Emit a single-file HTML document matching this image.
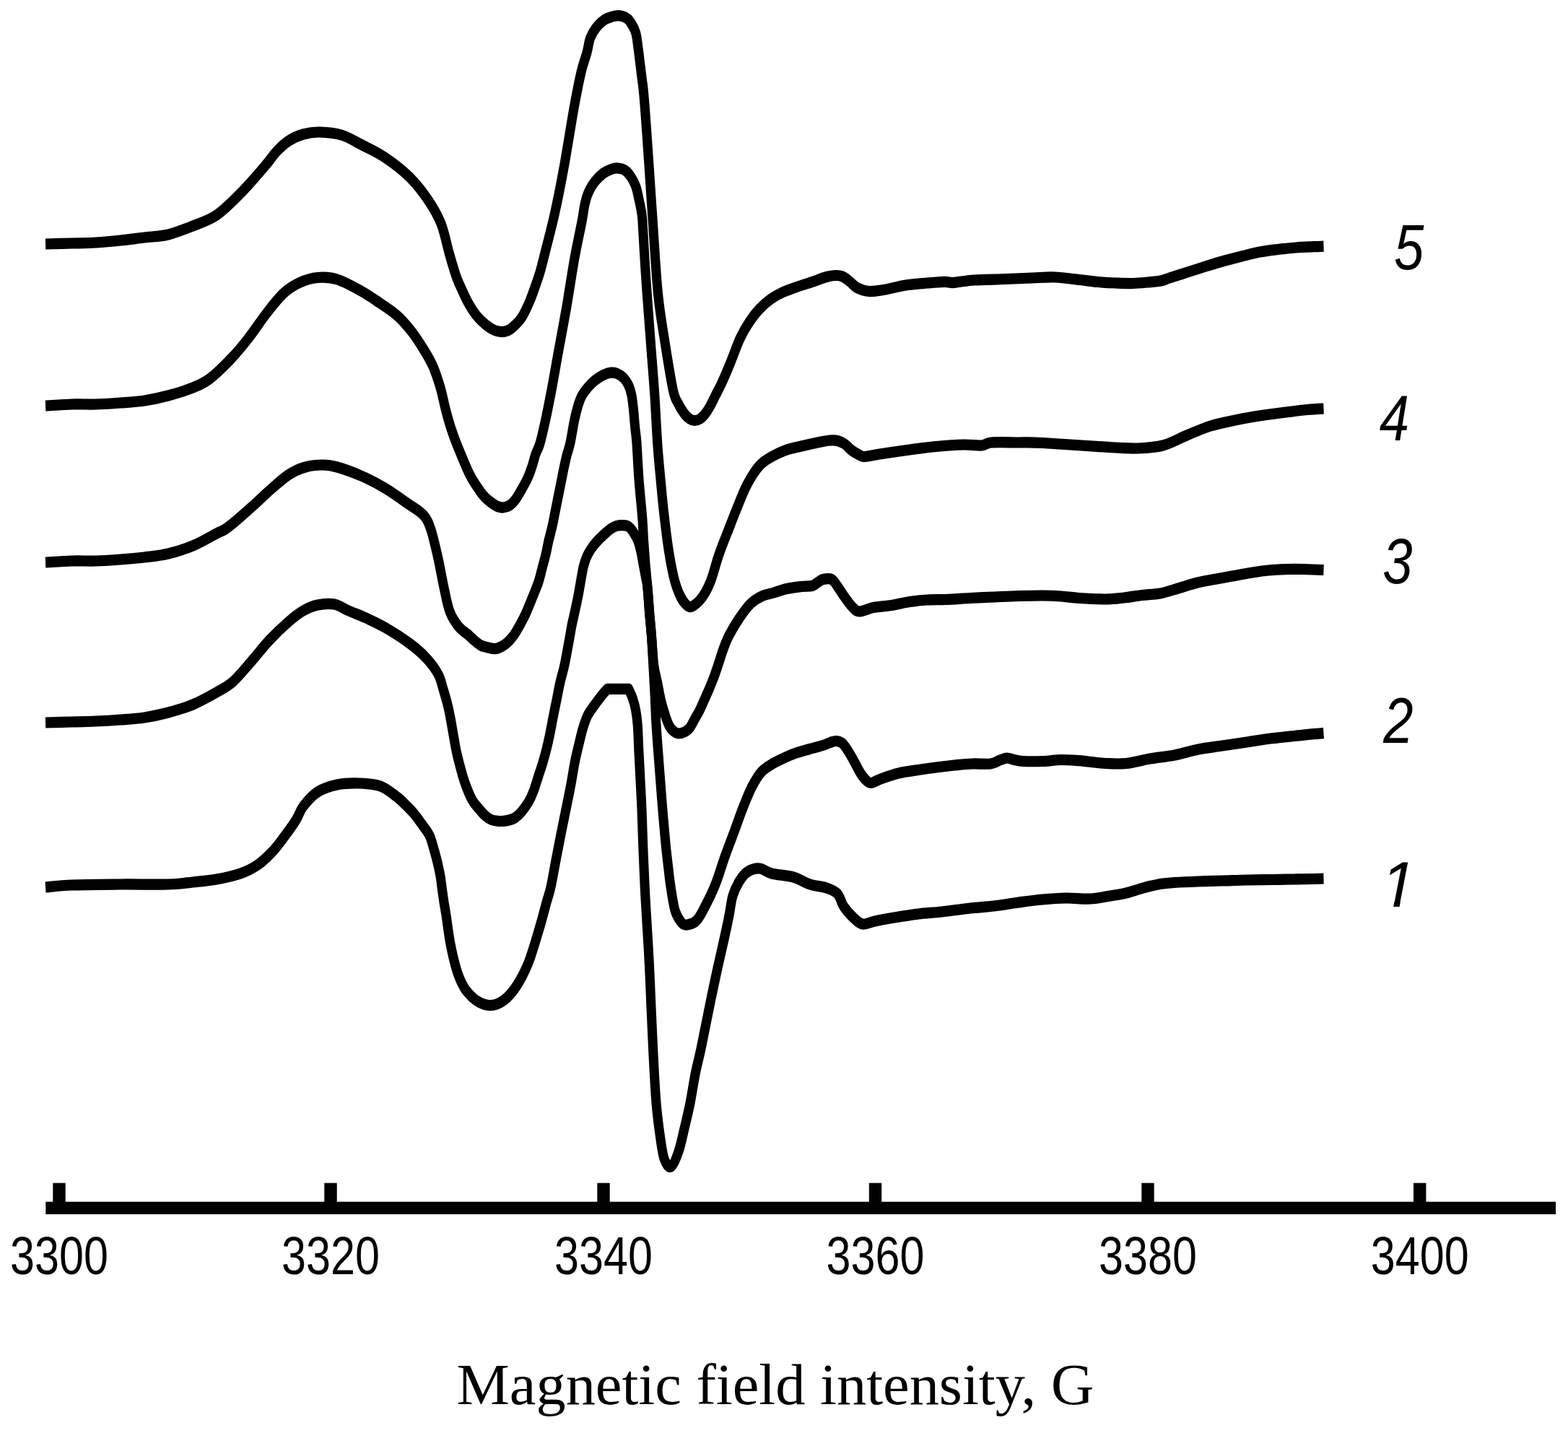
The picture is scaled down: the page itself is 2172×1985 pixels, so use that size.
<!DOCTYPE html>
<html lang="en">
<head>
<meta charset="utf-8">
<title>Magnetic field intensity</title>
<style>
html,body{margin:0;padding:0;background:#fff;}
body{width:2172px;height:1985px;overflow:hidden;}
svg{display:block;}
.curves path{fill:none;stroke:#000;stroke-width:15.2;stroke-linejoin:round;stroke-linecap:butt;}
.ticklabels text{font-family:"Liberation Sans",sans-serif;font-size:74.5px;text-anchor:middle;fill:#000;}
.curvelabels text{font-family:"Liberation Sans",sans-serif;font-style:italic;font-size:89px;text-anchor:middle;fill:#000;}
.title{font-family:"Liberation Serif",serif;font-size:81px;fill:#000;}
</style>
</head>
<body>
<svg xmlns="http://www.w3.org/2000/svg" width="2172" height="1985" viewBox="0 0 2172 1985">
<rect width="2172" height="1985" fill="#fff"/>
<g class="curves" transform="scale(0.86 1)">
<path d="M73.3 1229.0C80.4 1228.5 96.1 1226.7 116.3 1226.0C136.4 1225.3 168.4 1225.2 194.2 1225.0C220.0 1224.8 251.6 1225.5 270.9 1225.0C290.3 1224.5 297.5 1223.2 310.5 1222.0C323.4 1220.8 336.0 1220.0 348.8 1218.0C361.6 1216.0 376.2 1213.3 387.2 1210.0C398.3 1206.7 406.6 1203.0 415.1 1198.0C423.6 1193.0 431.4 1186.3 438.4 1180.0C445.3 1173.7 450.6 1167.3 457.0 1160.0C463.4 1152.7 471.5 1143.2 476.7 1136.0C482.0 1128.8 482.6 1123.5 488.4 1117.0C494.2 1110.5 502.5 1102.0 511.6 1097.0C520.7 1092.0 532.0 1089.0 543.0 1087.0C554.1 1085.0 566.3 1084.7 577.9 1085.0C589.5 1085.3 602.5 1085.8 612.8 1089.0C623.1 1092.2 632.8 1099.7 639.5 1104.0C646.3 1108.3 649.0 1111.2 653.5 1115.0C657.9 1118.8 661.8 1121.9 666.3 1126.5C670.7 1131.1 676.0 1137.3 680.2 1142.5C684.5 1147.7 688.8 1151.9 691.9 1157.5C695.0 1163.1 696.7 1169.8 698.8 1176.0C701.0 1182.2 702.9 1188.7 704.7 1195.0C706.4 1201.3 708.0 1207.5 709.3 1213.7C710.6 1220.0 711.2 1226.5 712.2 1232.5C713.2 1238.5 714.1 1244.1 715.1 1250.0C716.2 1255.9 716.9 1258.3 718.6 1268.0C720.3 1277.7 722.7 1295.2 725.6 1308.0C728.5 1320.8 732.4 1335.0 736.0 1345.0C739.7 1355.0 743.4 1361.8 747.7 1368.0C751.9 1374.2 757.4 1378.5 761.6 1382.0C765.9 1385.5 769.0 1387.2 773.3 1389.0C777.5 1390.8 782.8 1392.2 787.2 1392.5C791.7 1392.8 795.9 1392.2 800.0 1391.0C804.1 1389.8 807.9 1387.8 811.6 1385.5C815.3 1383.2 818.8 1380.2 822.1 1377.0C825.4 1373.8 828.1 1370.8 831.4 1366.5C834.7 1362.2 838.4 1356.9 841.9 1351.0C845.3 1345.1 848.8 1339.0 852.3 1331.0C855.8 1323.0 859.5 1312.2 862.8 1303.0C866.1 1293.8 869.2 1284.8 872.1 1276.0C875.0 1267.2 877.7 1258.0 880.2 1250.0C882.8 1242.0 884.8 1238.4 887.4 1228.0C890.1 1217.6 893.4 1200.0 896.2 1187.7C898.9 1175.4 901.3 1165.4 903.8 1154.3C906.4 1143.2 909.0 1132.1 911.6 1121.0C914.2 1109.9 917.0 1098.8 919.4 1087.7C921.8 1076.6 923.9 1064.0 926.2 1054.3C928.4 1044.6 930.8 1036.8 932.9 1029.3C935.0 1021.8 936.5 1015.7 938.7 1009.3C941.0 1002.9 943.3 996.5 946.5 991.0C949.7 985.5 954.3 980.7 958.1 976.0C962.0 971.3 966.4 966.3 969.8 962.7C973.2 959.1 977.0 955.7 978.5 954.3C984.1 954.3 1006.8 954.3 1012.4 954.3C1013.6 956.5 1017.2 962.7 1019.2 967.7C1021.1 972.7 1022.8 978.2 1024.1 984.3C1025.4 990.4 1026.2 995.4 1027.0 1004.3C1027.8 1013.2 1028.2 1026.6 1028.8 1037.7C1029.5 1048.8 1030.0 1057.1 1030.8 1071.0C1031.6 1084.9 1032.9 1104.3 1033.7 1121.0C1034.5 1137.7 1034.9 1153.2 1035.7 1171.0C1036.5 1188.8 1037.8 1213.0 1038.6 1228.0C1039.4 1243.0 1039.6 1244.3 1040.7 1261.0C1041.8 1277.7 1044.0 1305.7 1045.3 1328.0C1046.7 1350.3 1047.7 1372.8 1048.8 1395.0C1050.0 1417.2 1051.0 1438.8 1052.3 1461.0C1053.7 1483.2 1055.2 1509.7 1057.0 1528.0C1058.7 1546.3 1060.7 1558.2 1062.8 1571.0C1064.9 1583.8 1066.8 1597.5 1069.8 1605.0C1072.8 1612.5 1076.9 1617.7 1080.8 1616.0C1084.7 1614.3 1089.3 1604.2 1093.0 1595.0C1096.7 1585.8 1099.8 1572.2 1102.9 1561.0C1106.0 1549.8 1108.8 1540.2 1111.6 1528.0C1114.4 1515.8 1117.0 1500.2 1119.8 1488.0C1122.6 1475.8 1125.6 1466.7 1128.5 1455.0C1131.4 1443.3 1134.3 1430.3 1137.2 1418.0C1140.1 1405.7 1142.8 1393.8 1145.9 1381.0C1149.0 1368.2 1152.4 1354.3 1155.8 1341.0C1159.2 1327.7 1163.2 1313.2 1166.3 1301.0C1169.4 1288.8 1172.1 1278.0 1174.4 1268.0C1176.7 1258.0 1177.5 1248.8 1180.2 1241.0C1182.9 1233.2 1186.8 1226.5 1190.7 1221.0C1194.6 1215.5 1198.1 1211.0 1203.5 1208.0C1208.9 1205.0 1216.7 1202.7 1223.3 1203.0C1229.8 1203.3 1233.9 1208.0 1243.0 1210.0C1252.1 1212.0 1267.6 1212.5 1277.9 1215.0C1288.2 1217.5 1295.7 1222.5 1304.7 1225.0C1313.6 1227.5 1324.0 1227.8 1331.4 1230.0C1338.8 1232.2 1344.2 1233.7 1348.8 1238.0C1353.5 1242.3 1355.0 1250.5 1359.3 1256.0C1363.6 1261.5 1369.4 1267.0 1374.4 1271.0C1379.5 1275.0 1383.7 1279.2 1389.5 1280.0C1395.3 1280.8 1400.8 1277.5 1409.3 1276.0C1417.8 1274.5 1429.1 1272.7 1440.7 1271.0C1452.3 1269.3 1466.3 1267.3 1479.1 1266.0C1491.9 1264.7 1503.5 1264.3 1517.4 1263.0C1531.4 1261.7 1548.8 1259.3 1562.8 1258.0C1576.7 1256.7 1588.2 1256.3 1601.2 1255.0C1614.1 1253.7 1627.7 1251.5 1640.7 1250.0C1653.7 1248.5 1666.3 1247.0 1679.1 1246.0C1691.9 1245.0 1704.5 1244.2 1717.4 1244.0C1730.4 1243.8 1744.0 1245.7 1757.0 1245.0C1770.0 1244.3 1785.9 1241.3 1795.3 1240.0C1804.8 1238.7 1807.6 1238.3 1814.0 1237.0C1820.3 1235.7 1827.3 1233.6 1833.7 1232.0C1840.1 1230.4 1845.7 1228.8 1852.3 1227.5C1858.9 1226.2 1866.7 1224.8 1873.3 1224.0C1879.8 1223.2 1882.4 1223.0 1891.9 1222.5C1901.4 1222.0 1917.4 1221.4 1930.2 1221.0C1943.0 1220.6 1955.6 1220.3 1968.6 1220.0C1981.6 1219.7 1995.2 1219.2 2008.1 1219.0C2021.1 1218.8 2033.7 1218.7 2046.5 1218.5C2059.3 1218.3 2073.3 1218.2 2084.9 1218.0C2096.5 1217.8 2108.4 1217.7 2116.3 1217.5C2124.1 1217.3 2129.4 1217.1 2132.0 1217.0"/>
<path d="M73.3 1001.0C80.4 1000.8 102.7 1000.3 116.3 1000.0C129.8 999.7 141.7 999.5 154.7 999.0C167.6 998.5 181.2 997.8 194.2 997.0C207.2 996.2 219.8 995.7 232.6 994.0C245.3 992.3 257.9 990.0 270.9 987.0C283.9 984.0 297.5 980.7 310.5 976.0C323.4 971.3 338.0 964.3 348.8 959.0C359.7 953.7 365.9 951.5 375.6 944.0C385.3 936.5 397.3 923.5 407.0 914.0C416.7 904.5 424.0 895.8 433.7 887.0C443.4 878.2 456.0 867.8 465.1 861.0C474.2 854.2 480.6 849.8 488.4 846.0C496.1 842.2 503.3 839.5 511.6 838.0C520.0 836.5 530.0 835.7 538.4 837.0C546.7 838.3 553.1 842.8 561.6 846.0C570.2 849.2 579.8 852.2 589.5 856.0C599.2 859.8 608.1 863.2 619.8 869.0C631.4 874.8 648.3 884.0 659.3 891.0C670.3 898.0 678.3 903.8 686.0 911.0C693.8 918.2 701.2 926.7 705.8 934.0C710.5 941.3 711.4 948.0 714.0 955.0C716.5 962.0 719.0 969.3 720.9 976.0C722.9 982.7 724.0 987.7 725.6 995.0C727.2 1002.3 729.1 1012.5 730.7 1020.0C732.2 1027.5 733.4 1033.8 734.9 1040.0C736.4 1046.2 737.6 1050.4 739.8 1057.5C742.0 1064.6 744.7 1074.2 748.1 1082.5C751.5 1090.8 756.1 1101.1 760.1 1107.5C764.1 1113.9 768.5 1117.2 772.1 1121.0C775.7 1124.8 778.5 1127.6 781.7 1130.0C785.0 1132.4 788.3 1134.3 791.5 1135.5C794.7 1136.7 797.9 1137.0 801.2 1137.3C804.4 1137.6 807.7 1137.5 810.8 1137.3C813.9 1137.1 816.7 1136.7 819.8 1136.0C822.8 1135.3 825.8 1134.8 829.1 1133.0C832.4 1131.2 835.9 1128.7 839.5 1125.0C843.2 1121.3 847.9 1115.8 851.2 1111.0C854.5 1106.2 856.7 1101.8 859.3 1096.0C861.9 1090.2 864.3 1082.7 866.9 1076.0C869.4 1069.3 872.2 1062.4 874.4 1056.0C876.6 1049.6 878.4 1044.1 880.2 1037.7C882.1 1031.3 883.8 1024.7 885.5 1017.7C887.2 1010.8 888.6 1003.8 890.3 996.0C892.1 988.2 894.2 979.3 896.2 971.0C898.1 962.7 899.8 954.3 902.0 946.0C904.2 937.7 906.9 930.5 909.3 921.0C911.7 911.5 914.2 898.5 916.3 889.0C918.3 879.5 919.8 871.5 921.5 864.0C923.3 856.5 925.0 851.0 926.7 844.0C928.5 837.0 930.4 829.0 932.0 822.0C933.5 815.0 934.8 808.0 936.0 802.0C937.3 796.0 938.2 790.8 939.5 786.0C940.9 781.2 942.2 777.1 944.2 773.0C946.1 768.9 948.4 765.2 951.2 761.5C953.9 757.8 957.0 754.4 960.5 751.0C964.0 747.6 968.2 744.1 972.1 741.0C976.0 737.9 980.2 734.6 983.7 732.5C987.2 730.4 989.9 729.3 993.0 728.5C996.1 727.7 999.4 727.7 1002.3 727.7C1005.2 727.7 1008.1 727.7 1010.5 728.5C1012.8 729.3 1014.3 730.6 1016.3 732.5C1018.2 734.4 1020.2 737.1 1022.1 740.0C1024.0 742.9 1026.2 745.8 1027.9 750.0C1029.7 754.2 1031.2 759.8 1032.6 765.0C1033.9 770.2 1034.8 775.2 1036.0 781.0C1037.3 786.8 1039.0 794.5 1040.1 800.0C1041.3 805.5 1042.1 806.2 1043.0 814.0C1044.0 821.8 1044.9 835.8 1045.9 847.0C1047.0 858.2 1048.4 868.7 1049.4 881.0C1050.4 893.3 1051.2 907.5 1052.1 921.0C1053.0 934.5 1053.8 948.2 1054.7 962.0C1055.5 975.8 1056.0 990.0 1057.0 1004.0C1057.9 1018.0 1059.3 1032.0 1060.5 1046.0C1061.7 1060.0 1062.9 1073.9 1064.2 1087.7C1065.4 1101.5 1066.6 1115.1 1068.0 1129.0C1069.4 1142.9 1071.1 1159.2 1072.4 1171.0C1073.8 1182.8 1074.9 1190.5 1076.2 1200.0C1077.5 1209.5 1078.4 1217.8 1080.2 1228.0C1082.1 1238.2 1084.3 1252.7 1087.2 1261.0C1090.1 1269.3 1094.4 1274.7 1097.7 1278.0C1101.0 1281.3 1102.9 1281.5 1107.0 1281.0C1111.0 1280.5 1117.2 1279.3 1122.1 1275.0C1126.9 1270.7 1131.0 1263.3 1136.0 1255.0C1141.1 1246.7 1147.1 1236.3 1152.3 1225.0C1157.6 1213.7 1162.4 1199.2 1167.4 1187.0C1172.5 1174.8 1177.6 1163.5 1182.6 1152.0C1187.5 1140.5 1192.3 1128.3 1197.1 1118.0C1201.8 1107.7 1206.1 1098.2 1211.0 1090.0C1216.0 1081.8 1221.2 1074.3 1226.7 1069.0C1232.3 1063.7 1238.4 1061.1 1244.2 1058.0C1250.0 1054.9 1255.8 1052.8 1261.6 1050.5C1267.4 1048.2 1272.3 1046.1 1279.1 1044.0C1285.9 1041.9 1294.6 1039.9 1302.3 1038.0C1310.1 1036.1 1319.8 1034.1 1325.6 1032.5C1331.4 1030.9 1333.7 1029.5 1337.2 1028.5C1340.7 1027.5 1343.4 1026.4 1346.5 1026.5C1349.6 1026.6 1353.1 1027.4 1355.8 1029.0C1358.5 1030.6 1360.1 1032.7 1362.8 1036.0C1365.5 1039.3 1368.2 1043.2 1372.1 1049.0C1376.0 1054.8 1382.2 1065.7 1386.0 1071.0C1389.9 1076.3 1392.4 1078.8 1395.3 1081.0C1398.3 1083.2 1399.6 1084.8 1403.5 1084.5C1407.4 1084.2 1411.2 1081.2 1418.6 1079.0C1426.0 1076.8 1437.6 1073.1 1447.7 1071.0C1457.8 1068.9 1469.0 1067.8 1479.1 1066.5C1489.1 1065.2 1498.4 1064.1 1508.1 1063.0C1517.8 1061.9 1527.5 1060.8 1537.2 1060.0C1546.9 1059.2 1556.6 1058.3 1566.3 1058.0C1576.0 1057.7 1588.0 1058.8 1595.3 1058.0C1602.7 1057.2 1606.0 1054.3 1610.5 1053.0C1614.9 1051.7 1618.2 1050.1 1622.1 1050.0C1626.0 1049.9 1629.5 1051.8 1633.7 1052.5C1638.0 1053.2 1639.9 1054.2 1647.7 1054.5C1655.4 1054.8 1670.0 1054.8 1680.2 1054.5C1690.5 1054.2 1699.6 1052.6 1709.3 1052.5C1719.0 1052.4 1731.2 1053.3 1738.4 1053.7C1745.5 1054.1 1745.2 1054.4 1752.3 1055.0C1759.5 1055.6 1771.1 1057.1 1781.4 1057.5C1791.7 1057.9 1802.1 1058.6 1814.0 1057.5C1825.8 1056.4 1839.3 1052.9 1852.3 1051.0C1865.3 1049.1 1878.9 1048.2 1891.9 1046.0C1904.8 1043.8 1917.4 1040.2 1930.2 1038.0C1943.0 1035.8 1955.6 1034.7 1968.6 1033.0C1981.6 1031.3 1995.2 1029.7 2008.1 1028.0C2021.1 1026.3 2033.7 1024.4 2046.5 1023.0C2059.3 1021.6 2073.3 1020.5 2084.9 1019.5C2096.5 1018.5 2108.4 1017.3 2116.3 1016.7C2124.1 1016.1 2129.4 1015.9 2132.0 1015.7"/>
<path d="M73.3 779.0C80.4 778.7 102.7 777.3 116.3 777.0C129.8 776.7 141.7 777.3 154.7 777.0C167.6 776.7 181.2 775.8 194.2 775.0C207.2 774.2 219.8 773.3 232.6 772.0C245.3 770.7 257.9 769.7 270.9 767.0C283.9 764.3 297.5 760.7 310.5 756.0C323.4 751.3 340.1 742.8 348.8 739.0C357.6 735.2 357.9 735.7 362.8 733.0C367.6 730.3 370.5 728.3 377.9 723.0C385.3 717.7 397.3 708.5 407.0 701.0C416.7 693.5 426.4 685.2 436.0 678.0C445.7 670.8 455.8 662.7 465.1 657.5C474.4 652.3 482.8 649.2 491.9 647.0C501.0 644.8 511.2 644.0 519.8 644.0C528.3 644.0 532.8 644.5 543.0 647.0C553.3 649.5 568.6 654.2 581.4 659.0C594.2 663.8 606.8 669.3 619.8 676.0C632.8 682.7 648.8 692.7 659.3 699.0C669.8 705.3 676.7 708.2 682.6 714.0C688.4 719.8 690.3 724.0 694.2 734.0C698.1 744.0 702.3 760.7 705.8 774.0C709.3 787.3 712.0 801.8 715.1 814.0C718.2 826.2 720.5 838.1 724.4 847.0C728.3 855.9 733.3 862.1 738.4 867.6C743.4 873.1 750.3 876.4 754.7 879.7C759.0 883.1 761.4 885.3 764.7 887.7C767.9 890.1 771.2 892.5 774.4 894.0C777.6 895.5 779.8 895.7 783.7 896.5C787.6 897.3 793.6 898.9 797.7 898.7C801.7 898.5 804.7 897.1 808.1 895.5C811.6 893.9 814.8 892.0 818.1 889.3C821.4 886.6 824.7 883.4 827.9 879.5C831.1 875.6 834.7 869.8 837.2 866.0C839.7 862.2 841.3 859.6 843.0 856.7C844.8 853.8 846.2 851.2 847.7 848.4C849.1 845.6 849.8 844.1 851.7 840.0C853.7 835.9 856.7 829.7 859.3 824.0C861.9 818.3 865.1 812.2 867.4 806.0C869.8 799.8 871.3 793.3 873.3 787.0C875.2 780.7 877.3 774.3 879.1 768.0C880.8 761.7 882.0 755.5 883.7 749.0C885.5 742.5 887.8 735.7 889.5 729.0C891.3 722.3 892.6 715.7 894.2 709.0C895.7 702.3 897.3 695.7 898.8 689.0C900.4 682.3 901.9 675.7 903.5 669.0C905.0 662.3 906.6 655.3 908.1 649.0C909.7 642.7 911.1 636.8 912.8 631.0C914.5 625.2 916.3 622.2 918.4 614.0C920.4 605.8 923.1 590.7 925.2 582.0C927.3 573.3 929.1 567.5 931.0 562.0C933.0 556.5 934.3 552.9 936.9 548.7C939.4 544.5 943.0 540.6 946.5 537.0C950.1 533.4 953.9 529.9 958.1 527.0C962.3 524.1 967.4 521.3 971.7 519.5C976.1 517.7 980.4 516.5 984.3 516.2C988.2 515.9 991.6 516.5 995.0 517.8C998.4 519.0 1001.7 521.1 1004.7 523.7C1007.6 526.4 1010.3 529.8 1012.4 533.7C1014.5 537.6 1015.9 541.7 1017.2 547.0C1018.5 552.3 1019.2 558.1 1020.1 565.3C1021.0 572.5 1021.8 582.2 1022.7 590.3C1023.6 598.4 1024.5 601.7 1025.6 614.0C1026.6 626.3 1027.6 647.3 1029.1 664.0C1030.5 680.7 1033.0 700.2 1034.3 714.0C1035.6 727.8 1035.8 735.8 1036.6 747.0C1037.5 758.2 1038.5 769.8 1039.5 781.0C1040.6 792.2 1042.0 803.0 1043.0 814.0C1044.1 825.0 1044.9 835.8 1045.9 847.0C1047.0 858.2 1048.2 868.7 1049.4 881.0C1050.6 893.3 1051.6 910.2 1053.1 921.0C1054.7 931.8 1057.0 937.7 1059.0 946.0C1060.9 954.3 1062.7 963.5 1064.8 971.0C1066.9 978.5 1069.3 985.2 1071.5 991.0C1073.8 996.8 1075.8 1002.2 1078.3 1006.0C1080.7 1009.8 1083.4 1011.8 1086.0 1013.5C1088.6 1015.2 1090.9 1016.0 1093.8 1016.0C1096.7 1016.0 1100.6 1014.9 1103.5 1013.5C1106.4 1012.1 1108.7 1010.6 1111.3 1007.7C1113.9 1004.8 1116.4 999.9 1119.0 996.0C1121.5 992.1 1124.1 988.8 1126.7 984.3C1129.3 979.8 1132.0 974.3 1134.5 969.3C1137.1 964.3 1139.6 959.6 1142.2 954.3C1144.8 949.0 1147.6 943.2 1150.0 937.7C1152.4 932.2 1154.2 927.5 1156.7 921.0C1159.3 914.5 1162.2 905.8 1165.1 899.0C1168.1 892.2 1170.0 887.3 1174.4 880.0C1178.9 872.7 1186.0 862.3 1191.9 855.0C1197.7 847.7 1203.5 840.8 1209.3 836.0C1215.1 831.2 1220.5 828.5 1226.7 826.0C1232.9 823.5 1239.7 822.8 1246.5 821.0C1253.3 819.2 1260.1 816.9 1267.4 815.5C1274.8 814.1 1283.9 813.2 1290.7 812.5C1297.5 811.8 1303.7 812.5 1308.1 811.5C1312.6 810.5 1314.5 808.0 1317.4 806.5C1320.3 805.0 1321.9 803.2 1325.6 802.5C1329.3 801.8 1335.7 800.9 1339.5 802.5C1343.4 804.1 1345.3 807.9 1348.8 812.0C1352.3 816.1 1356.6 822.3 1360.5 827.0C1364.3 831.7 1368.2 836.7 1372.1 840.0C1376.0 843.3 1377.9 846.8 1383.7 847.0C1389.5 847.2 1398.3 842.9 1407.0 841.5C1415.7 840.1 1426.4 839.8 1436.0 838.5C1445.7 837.2 1455.4 834.8 1465.1 833.5C1474.8 832.2 1484.5 831.5 1494.2 831.0C1503.9 830.5 1511.8 830.9 1523.3 830.5C1534.7 830.1 1549.8 829.1 1562.8 828.5C1575.8 827.9 1588.2 827.5 1601.2 827.0C1614.1 826.5 1627.5 825.8 1640.7 825.5C1653.9 825.2 1668.8 824.9 1680.2 825.0C1691.7 825.1 1699.6 825.4 1709.3 826.0C1719.0 826.6 1726.4 827.8 1738.4 828.5C1750.4 829.2 1769.4 830.1 1781.4 830.0C1793.4 829.9 1800.8 828.9 1810.5 828.0C1820.2 827.1 1829.8 825.5 1839.5 824.5C1849.2 823.5 1858.9 823.6 1868.6 822.0C1878.3 820.4 1888.0 817.4 1897.7 815.0C1907.4 812.6 1917.1 809.6 1926.7 807.5C1936.4 805.4 1946.1 804.1 1955.8 802.5C1965.5 800.9 1975.2 799.5 1984.9 798.0C1994.6 796.5 2004.3 794.8 2014.0 793.5C2023.6 792.2 2033.3 790.8 2043.0 790.0C2052.7 789.2 2062.4 788.8 2072.1 788.5C2081.8 788.2 2091.2 788.3 2101.2 788.5C2111.1 788.7 2126.8 789.3 2132.0 789.5"/>
<path d="M73.3 562.0C80.4 561.7 102.7 560.3 116.3 560.0C129.8 559.7 141.7 560.3 154.7 560.0C167.6 559.7 181.2 558.8 194.2 558.0C207.2 557.2 219.8 556.7 232.6 555.0C245.3 553.3 257.9 551.0 270.9 548.0C283.9 545.0 299.4 540.8 310.5 537.0C321.5 533.2 327.1 531.5 337.2 525.0C347.3 518.5 360.7 507.2 370.9 498.0C381.2 488.8 389.0 480.8 398.8 470.0C408.7 459.2 420.5 443.7 430.2 433.0C439.9 422.3 448.3 412.9 457.0 406.0C465.7 399.1 473.4 395.1 482.6 391.5C491.7 387.9 501.6 385.2 511.6 384.5C521.7 383.8 531.4 383.9 543.0 387.0C554.7 390.1 570.2 397.7 581.4 403.0C592.6 408.3 600.8 413.3 610.5 419.0C620.2 424.7 630.8 430.3 639.5 437.0C648.3 443.7 655.5 451.0 662.8 459.0C670.1 467.0 677.3 476.8 683.1 485.0C689.0 493.2 693.3 499.3 697.7 508.0C702.0 516.7 705.9 527.0 709.3 537.0C712.7 547.0 715.1 558.5 718.0 568.0C720.9 577.5 723.7 586.0 726.7 594.0C729.7 602.0 731.2 605.7 736.0 616.0C740.9 626.3 749.8 645.5 755.8 656.0C761.8 666.5 767.8 673.5 772.1 679.0C776.4 684.5 778.1 686.1 781.4 689.0C784.7 691.9 788.6 694.4 791.9 696.5C795.2 698.6 798.1 700.4 801.2 701.5C804.3 702.6 807.2 703.2 810.5 703.0C813.8 702.8 817.6 701.8 820.9 700.0C824.2 698.2 827.1 695.5 830.2 692.0C833.3 688.5 836.2 684.0 839.5 679.0C842.8 674.0 847.1 667.5 850.0 662.0C852.9 656.5 854.8 651.5 857.0 646.0C859.1 640.5 860.7 634.3 862.8 629.0C864.9 623.7 867.1 622.2 869.8 614.0C872.5 605.8 876.0 592.3 879.1 580.0C882.2 567.7 885.1 555.0 888.4 540.0C891.7 525.0 894.8 509.3 898.8 490.0C902.9 470.7 908.3 446.2 912.8 424.0C917.2 401.8 921.5 376.5 925.6 357.0C929.7 337.5 934.5 319.3 937.2 307.0C939.9 294.7 940.1 290.0 941.9 283.3C943.6 276.6 945.0 272.0 947.7 266.7C950.4 261.4 954.1 256.1 958.1 251.7C962.2 247.2 967.2 242.9 971.7 240.0C976.3 237.1 981.4 235.4 985.2 234.2C989.1 233.0 991.4 232.7 995.0 233.0C998.6 233.3 1003.1 233.8 1006.6 235.8C1010.2 237.8 1013.4 241.2 1016.3 245.0C1019.2 248.8 1022.0 253.3 1024.1 258.3C1026.2 263.3 1027.4 269.4 1028.8 275.0C1030.3 280.6 1031.8 286.4 1032.8 291.7C1033.8 297.0 1033.9 294.4 1034.9 307.0C1035.9 319.6 1037.6 348.7 1039.0 367.0C1040.3 385.3 1041.4 397.7 1043.0 417.0C1044.7 436.3 1046.9 460.8 1048.8 483.0C1050.8 505.2 1053.0 528.2 1054.7 550.0C1056.3 571.8 1057.4 595.0 1059.0 614.0C1060.5 633.0 1062.2 647.3 1064.0 664.0C1065.8 680.7 1067.5 697.3 1069.8 714.0C1072.0 730.7 1074.9 750.2 1077.3 764.0C1079.8 777.8 1082.4 788.7 1084.5 797.0C1086.7 805.3 1088.1 809.0 1090.1 814.0C1092.1 819.0 1094.3 823.3 1096.5 827.0C1098.7 830.7 1101.0 833.7 1103.5 836.0C1105.9 838.3 1108.8 840.4 1111.3 840.7C1113.8 841.0 1116.0 839.5 1118.6 838.0C1121.2 836.5 1123.8 834.9 1126.7 832.0C1129.7 829.1 1133.1 825.0 1136.0 820.7C1139.0 816.4 1141.9 811.0 1144.2 806.0C1146.5 801.0 1148.1 796.3 1150.0 791.0C1151.9 785.7 1153.7 779.7 1155.8 774.0C1157.9 768.3 1159.9 763.7 1162.8 757.0C1165.7 750.3 1169.0 743.3 1173.3 734.0C1177.5 724.7 1183.3 711.5 1188.4 701.0C1193.4 690.5 1197.7 680.3 1203.5 671.0C1209.3 661.7 1216.5 651.5 1223.3 645.0C1230.0 638.5 1236.8 635.7 1244.2 632.0C1251.6 628.3 1259.7 625.3 1267.4 623.0C1275.2 620.7 1282.0 619.8 1290.7 618.0C1299.4 616.2 1312.0 613.8 1319.8 612.5C1327.5 611.2 1332.4 610.3 1337.2 610.0C1342.1 609.7 1345.0 609.7 1348.8 610.5C1352.7 611.3 1356.6 612.8 1360.5 615.0C1364.3 617.2 1368.2 621.5 1372.1 624.0C1376.0 626.5 1380.2 628.6 1383.7 630.0C1387.2 631.4 1386.8 632.8 1393.0 632.5C1399.2 632.2 1408.9 630.1 1420.9 628.5C1432.9 626.9 1450.6 624.7 1465.1 623.0C1479.7 621.3 1493.6 619.7 1508.1 618.5C1522.7 617.3 1540.1 616.2 1552.3 616.0C1564.5 615.8 1574.0 617.5 1581.4 617.0C1588.8 616.5 1586.8 613.7 1596.5 613.0C1606.2 612.3 1625.8 612.9 1639.5 613.0C1653.3 613.1 1653.1 612.3 1679.1 613.5C1705.0 614.7 1769.6 618.8 1795.3 620.0C1821.1 621.2 1820.7 621.5 1833.7 621.0C1846.7 620.5 1860.3 620.0 1873.3 617.0C1886.2 614.0 1898.8 607.5 1911.6 603.0C1924.4 598.5 1937.0 593.5 1950.0 590.0C1963.0 586.5 1976.6 584.3 1989.5 582.0C2002.5 579.7 2015.1 577.8 2027.9 576.0C2040.7 574.2 2053.3 572.9 2066.3 571.5C2079.3 570.1 2094.9 568.4 2105.8 567.5C2116.8 566.6 2127.6 566.2 2132.0 566.0"/>
<path d="M73.3 338.0C80.4 337.8 102.7 337.3 116.3 337.0C129.8 336.7 141.7 336.7 154.7 336.0C167.6 335.3 181.2 334.2 194.2 333.0C207.2 331.8 219.8 330.3 232.6 329.0C245.3 327.7 257.9 327.7 270.9 325.0C283.9 322.3 297.5 317.5 310.5 313.0C323.4 308.5 336.0 305.5 348.8 298.0C361.6 290.5 374.2 279.3 387.2 268.0C400.2 256.7 417.1 239.7 426.7 230.0C436.4 220.3 439.0 215.8 445.3 210.0C451.7 204.2 457.9 199.0 465.1 195.0C472.3 191.0 480.0 188.0 488.4 186.0C496.7 184.0 504.8 182.8 515.1 183.0C525.4 183.2 539.0 184.2 550.0 187.0C561.0 189.8 569.8 194.8 581.4 200.0C593.0 205.2 606.8 210.5 619.8 218.0C632.8 225.5 647.7 235.2 659.3 245.0C670.9 254.8 681.0 266.2 689.5 277.0C698.1 287.8 704.8 297.8 710.5 310.0C716.1 322.2 719.4 338.3 723.3 350.0C727.1 361.7 730.9 372.7 733.7 380.0C736.5 387.3 736.9 387.8 740.1 394.0C743.3 400.2 748.4 410.3 752.9 417.5C757.5 424.7 762.6 431.7 767.4 437.0C772.3 442.3 777.1 446.0 782.0 449.4C786.8 452.8 792.2 455.8 796.5 457.5C800.9 459.2 804.7 459.5 808.1 459.6C811.6 459.7 814.5 459.0 817.4 458.0C820.3 457.0 821.8 456.5 825.6 453.5C829.4 450.5 835.5 446.0 840.1 440.0C844.7 434.0 849.3 425.2 853.1 417.5C857.0 409.8 860.6 400.2 863.4 393.5C866.1 386.8 867.3 384.2 869.8 377.0C872.2 369.8 873.8 364.0 877.9 350.0C882.0 336.0 889.0 313.5 894.2 293.0C899.4 272.5 904.3 250.8 909.3 227.0C914.3 203.2 920.0 171.2 924.4 150.0C928.9 128.8 932.6 112.8 936.0 100.0C939.5 87.2 942.9 80.8 945.3 73.0C947.8 65.2 948.1 58.8 950.6 53.0C953.1 47.2 956.7 42.2 960.5 38.0C964.2 33.8 969.0 30.0 973.3 27.5C977.5 25.0 982.1 24.0 986.0 23.0C990.0 22.0 993.6 21.5 997.1 21.7C1000.6 21.9 1004.1 22.7 1007.0 24.0C1009.9 25.3 1011.7 26.0 1014.5 29.5C1017.3 33.0 1021.6 38.8 1023.8 45.0C1026.1 51.2 1026.7 59.8 1027.9 66.7C1029.1 73.7 1029.7 79.3 1030.8 86.7C1031.9 94.1 1033.2 103.3 1034.3 111.0C1035.4 118.7 1035.8 118.2 1037.2 133.0C1038.7 147.8 1041.2 177.7 1043.0 200.0C1044.9 222.3 1046.8 249.2 1048.3 267.0C1049.7 284.8 1049.6 283.7 1051.5 307.0C1053.4 330.3 1056.6 379.2 1059.9 407.0C1063.1 434.8 1066.9 451.5 1070.9 473.7C1075.0 495.9 1080.4 525.9 1084.1 540.3C1087.8 554.7 1090.0 554.5 1093.0 560.0C1096.1 565.5 1099.4 569.7 1102.3 573.0C1105.2 576.3 1107.7 578.4 1110.5 580.0C1113.2 581.6 1116.0 582.5 1119.0 582.5C1121.9 582.5 1125.1 581.6 1127.9 580.0C1130.8 578.4 1133.3 576.0 1136.0 573.0C1138.8 570.0 1141.5 566.2 1144.2 562.0C1146.9 557.8 1149.2 553.3 1152.3 548.0C1155.4 542.7 1158.7 537.7 1162.8 530.0C1166.9 522.3 1171.9 512.2 1176.7 502.0C1181.6 491.8 1186.8 478.3 1191.9 469.0C1196.9 459.7 1201.7 452.8 1207.0 446.0C1212.2 439.2 1217.4 433.3 1223.3 428.0C1229.1 422.7 1235.5 417.9 1241.9 414.0C1248.3 410.1 1254.5 407.3 1261.6 404.5C1268.8 401.7 1277.1 399.3 1284.9 397.0C1292.6 394.7 1300.4 392.8 1308.1 390.5C1315.9 388.2 1325.2 385.0 1331.4 383.5C1337.6 382.0 1341.1 381.6 1345.3 381.5C1349.6 381.4 1353.1 381.6 1357.0 383.0C1360.9 384.4 1364.5 387.3 1368.6 390.0C1372.7 392.7 1376.2 396.8 1381.4 399.0C1386.6 401.2 1393.0 403.1 1400.0 403.5C1407.0 403.9 1413.4 402.9 1423.3 401.5C1433.1 400.1 1447.5 396.6 1459.3 395.0C1471.1 393.4 1483.9 392.8 1494.2 392.0C1504.5 391.2 1514.3 390.4 1520.9 390.3C1527.5 390.2 1529.1 391.7 1533.7 391.6C1538.4 391.6 1542.8 390.6 1548.8 390.0C1554.8 389.4 1557.8 388.6 1569.8 388.0C1581.8 387.4 1605.4 387.0 1620.9 386.5C1636.4 386.0 1649.8 385.4 1662.8 385.0C1675.8 384.6 1686.2 383.6 1698.8 384.0C1711.4 384.4 1726.9 386.4 1738.4 387.5C1749.8 388.6 1757.8 389.8 1767.4 390.5C1777.1 391.2 1786.8 391.7 1796.5 392.0C1806.2 392.3 1816.9 392.7 1825.6 392.5C1834.3 392.3 1841.5 391.6 1848.8 391.0C1856.2 390.4 1864.0 390.0 1869.8 389.0C1875.6 388.0 1876.6 387.0 1883.7 385.0C1890.9 383.0 1903.1 379.7 1912.8 377.0C1922.5 374.3 1932.2 371.6 1941.9 369.0C1951.6 366.4 1961.2 363.8 1970.9 361.5C1980.6 359.2 1990.3 357.1 2000.0 355.0C2009.7 352.9 2019.4 350.6 2029.1 349.0C2038.8 347.4 2048.4 346.5 2058.1 345.5C2067.8 344.5 2077.5 343.6 2087.2 343.0C2096.9 342.4 2108.8 342.0 2116.3 341.7C2123.7 341.4 2129.4 341.3 2132.0 341.2"/>
</g>
<g class="axis" fill="#000">
<rect x="63.3" y="1664.7" width="2091.7" height="17.3"/>
<rect x="73.3" y="1638.7" width="17.4" height="30"/>
<rect x="449.3" y="1638.7" width="17.4" height="30"/>
<rect x="827.3" y="1638.7" width="17.4" height="30"/>
<rect x="1203.8" y="1638.7" width="17.4" height="30"/>
<rect x="1581.3" y="1638.7" width="17.4" height="30"/>
<rect x="1958.0" y="1638.7" width="17.4" height="30"/>
</g>
<g class="ticklabels">
<text transform="translate(82.0 1764.9) scale(0.820 1)">3300</text>
<text transform="translate(458.0 1764.9) scale(0.820 1)">3320</text>
<text transform="translate(836.0 1764.9) scale(0.820 1)">3340</text>
<text transform="translate(1212.5 1764.9) scale(0.820 1)">3360</text>
<text transform="translate(1590.0 1764.9) scale(0.820 1)">3380</text>
<text transform="translate(1966.7 1764.9) scale(0.820 1)">3400</text>
</g>
<defs><clipPath id="nofoot" clipPathUnits="userSpaceOnUse"><path d="M-7.2 1L1.3 1L2.8 -7.6L62 -7.6L62 -75L-50 -75L-50 -7.6L-5.7 -7.6Z"/></clipPath></defs>
<g class="curvelabels">
<text transform="translate(1951.6 373.0) scale(0.834 1)">5</text>
<text transform="translate(1931.3 609.8) scale(0.834 1)">4</text>
<text transform="translate(1936.0 808.0) scale(0.834 1)">3</text>
<text transform="translate(1936.9 1028.7) scale(0.834 1)">2</text>
<text clip-path="url(#nofoot)" transform="translate(1937.2 1256.0)">1</text>
</g>
<text class="title" x="632.6" y="1944.9" textLength="882.7" lengthAdjust="spacingAndGlyphs">Magnetic field intensity, G</text>
</svg>
</body>
</html>
